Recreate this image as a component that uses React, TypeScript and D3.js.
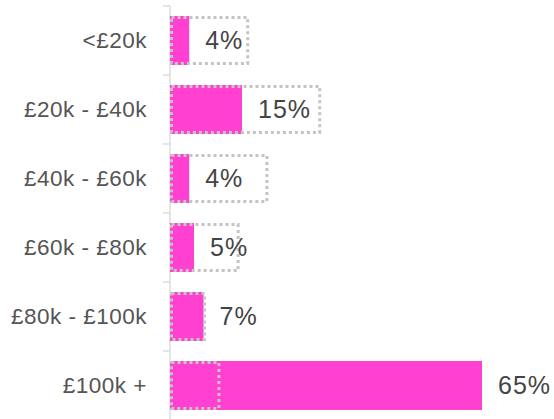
import React from "react";
import * as d3 from "d3";

const categories = ["<£20k", "£20k - £40k", "£40k - £60k", "£60k - £80k", "£80k - £100k", "£100k +"];
const values = [4, 15, 4, 5, 7, 65];
const comparison = [16.5, 31.5, 20.5, 14.5, 7.5, 10.5];
const valueLabels = ["4%", "15%", "4%", "5%", "7%", "65%"];

const W = 554;
const H = 419;

export default function App() {
  const x = d3.scaleLinear().domain([0, 65]).range([170, 482]);
  const y = d3.scaleBand<string>().domain(categories).range([6, 420]).paddingInner(0).paddingOuter(0);
  const bw = y.bandwidth();
  const barH = bw * 0.71;
  const off = (bw - barH) / 2;
  const font = "'Liberation Sans', Arial, sans-serif";
  const sw = 3;
  return (
    <svg width={W} height={H} style={{ position: "absolute", left: 0, top: 0 }} fontFamily={font}>
      <line x1={170} x2={170} y1={6} y2={H} stroke="#dcdcdc" strokeWidth={1.5} />
      {categories.map((c, i) => (
        <g key={c}>
          <line x1={163} x2={170} y1={y(c)!} y2={y(c)!} stroke="#dcdcdc" strokeWidth={1.5} />
          <rect x={x(0)} y={y(c)! + off} width={x(values[i]) - x(0)} height={barH} fill="#ff40d0" />
          <rect
            x={x(0) + sw / 2}
            y={y(c)! + off + sw / 2}
            width={x(comparison[i]) - x(0) - sw}
            height={barH - sw}
            fill="none"
            stroke="#c4c4c4"
            strokeWidth={sw}
            strokeDasharray="3,3"
          />
          <text x={147} y={y(c)! + bw / 2} dy="0.35em" textAnchor="end" fontSize={22.5} letterSpacing={0.5} fill="#555">
            {c}
          </text>
          <text x={x(values[i]) + 16} y={y(c)! + bw / 2} dy="0.35em" fontSize={25} letterSpacing={1} fill="#444">
            {valueLabels[i]}
          </text>
        </g>
      ))}
    </svg>
  );
}
